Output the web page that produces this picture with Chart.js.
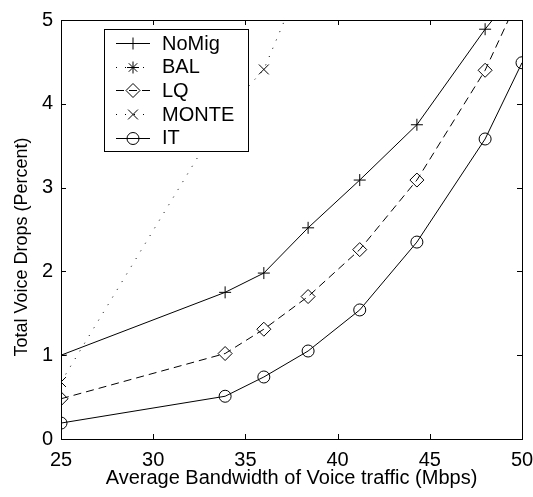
<!DOCTYPE html>
<html>
<head>
<meta charset="utf-8">
<script src="https://cdn.jsdelivr.net/npm/chart.js"></script>
<style>
  html, body { margin: 0; padding: 0; background: #fff; }
  canvas { display: block; }
</style>
</head>
<body>
<canvas id="drops" width="533" height="497"></canvas>
<script>
// average voice bandwidth (Mbps)
const bandwidth = [25, 33.9, 36, 38.4, 41.2, 44.3, 48, 50];

// total voice drops (%) for each policy
const noMig = [1.00, 1.75, 1.98, 2.52, 3.09, 3.75, 4.89, 5.44];
const bal   = [null, null, null, null, null, null, null, null]; // stays above 5% over the range
const lq    = [0.48, 1.02, 1.31, 1.70, 2.26, 3.09, 4.40, 5.35];
const monte = [0.68, 3.90, 4.41, 5.66, null, null, null, null];
const it    = [0.19, 0.51, 0.74, 1.05, 1.54, 2.35, 3.58, 4.49];

const xTicks = [25, 30, 35, 40, 45, 50];
const yTicks = [0, 1, 2, 3, 4, 5];

const family = "'Liberation Sans', Arial, sans-serif";
const font = { family: family, size: 20 };
const yTitle = 'Total Voice Drops (Percent)';

function series(label, values, pointStyle, radius, dash) {
  return {
    label: label,
    data: values.map((y, i) => ({ x: bandwidth[i], y: y })),
    borderColor: '#000',
    borderWidth: 1,
    borderDash: dash,
    pointStyle: pointStyle,
    pointRadius: radius,
    pointBorderColor: '#000',
    pointBackgroundColor: 'rgba(0,0,0,0)',
    pointBorderWidth: 1,
    tension: 0,
    spanGaps: false
  };
}

// box, inward tick marks, y label and the legend, drawn over the lines
const matlabAxes = {
  id: 'matlabAxes',
  afterDatasetsDraw(chart) {
    const ctx = chart.ctx;
    const a = chart.chartArea;
    const xs = chart.scales.x, ys = chart.scales.y;
    const tl = 5;
    ctx.save();
    ctx.strokeStyle = '#000';
    ctx.lineWidth = 1;
    ctx.setLineDash([]);
    ctx.beginPath();
    xTicks.forEach(v => {
      const px = Math.round(xs.getPixelForValue(v)) + 0.5;
      ctx.moveTo(px, a.bottom); ctx.lineTo(px, a.bottom - tl);
      ctx.moveTo(px, a.top); ctx.lineTo(px, a.top + tl);
    });
    yTicks.forEach(v => {
      const py = Math.round(ys.getPixelForValue(v)) + 0.5;
      ctx.moveTo(a.left, py); ctx.lineTo(a.left + tl, py);
      ctx.moveTo(a.right, py); ctx.lineTo(a.right - tl, py);
    });
    ctx.stroke();
    ctx.strokeRect(Math.round(a.left) + 0.5, Math.round(a.top) + 0.5,
                   Math.round(a.right - a.left), Math.round(a.bottom - a.top));

    // y axis label
    ctx.save();
    ctx.translate(22, 247);
    ctx.rotate(-Math.PI / 2);
    ctx.fillStyle = '#000';
    ctx.font = '18px ' + family;
    ctx.textAlign = 'center';
    ctx.textBaseline = 'middle';
    ctx.fillText(yTitle, 0, 0);
    ctx.restore();

    // legend
    const bx = a.left + 43, by = a.top + 9, bw = 144, bh = 122;
    ctx.fillStyle = '#fff';
    ctx.fillRect(bx, by, bw, bh);
    ctx.strokeRect(Math.round(bx) + 0.5, Math.round(by) + 0.5, bw, bh);
    ctx.font = font.size + 'px ' + family;
    ctx.textBaseline = 'middle';
    ctx.textAlign = 'left';
    chart.data.datasets.forEach((ds, i) => {
      const y = by + 14 + i * 23.7;
      ctx.setLineDash(ds.borderDash || []);
      ctx.beginPath();
      ctx.moveTo(bx + 12, Math.round(y) + 0.5);
      ctx.lineTo(bx + 46, Math.round(y) + 0.5);
      ctx.stroke();
      ctx.setLineDash([]);
      ctx.fillStyle = 'rgba(0,0,0,0)';
      Chart.helpers.drawPoint(ctx, {
        pointStyle: ds.pointStyle, radius: ds.pointRadius, rotation: 0, borderWidth: 1
      }, bx + 29, Math.round(y) + 0.5);
      ctx.fillStyle = '#000';
      ctx.fillText(ds.label, bx + 58, y + 1);
    });
    ctx.restore();
  }
};

new Chart(document.getElementById('drops'), {
  type: 'line',
  data: {
    datasets: [
      series('NoMig', noMig, 'cross', 6, []),
      series('BAL', bal, 'star', 6, [1, 8]),
      series('LQ', lq, 'rectRot', 7, [8, 5]),
      series('MONTE', monte, 'crossRot', 7, [1, 8]),
      series('IT', it, 'circle', 6, [])
    ]
  },
  options: {
    responsive: false,
    devicePixelRatio: 1,
    animation: false,
    layout: { padding: { top: 15, right: 0, left: 0, bottom: 0 } },
    plugins: { legend: { display: false }, tooltip: { enabled: false } },
    scales: {
      x: {
        type: 'linear', min: 25, max: 50,
        afterBuildTicks: s => { s.ticks = xTicks.map(v => ({ value: v })); },
        afterFit: s => { s.height = 58; s.paddingLeft = 0; s.paddingRight = 11; },
        grid: { display: false, drawTicks: false },
        border: { display: false },
        ticks: { color: '#000', font: font, padding: 9, maxRotation: 0, autoSkip: false },
        title: {
          display: true, text: 'Average Bandwidth of Voice traffic (Mbps)',
          color: '#000', font: font, padding: { top: 0, bottom: 7 }
        }
      },
      y: {
        min: 0, max: 5,
        afterBuildTicks: s => { s.ticks = yTicks.map(v => ({ value: v })); },
        afterFit: s => { s.width = 61; },
        grid: { display: false, drawTicks: false },
        border: { display: false },
        ticks: { color: '#000', font: font, padding: 8 }
      }
    }
  },
  plugins: [matlabAxes]
});
</script>
</body>
</html>
